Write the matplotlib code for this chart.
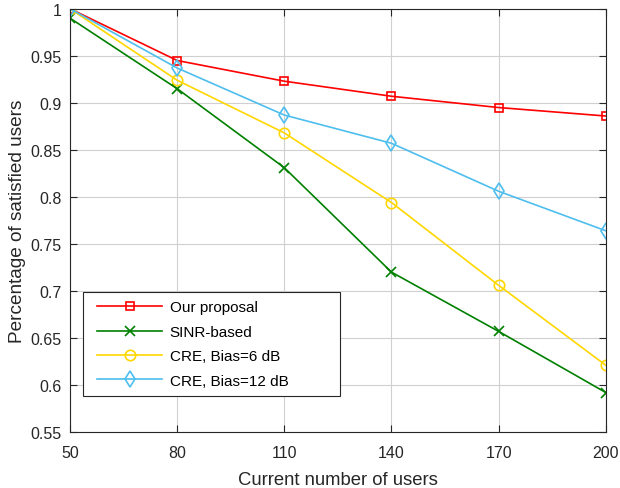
import matplotlib
matplotlib.use("Agg")
import matplotlib.pyplot as plt
from matplotlib.lines import Line2D
from matplotlib.legend_handler import HandlerLine2D

users = [50, 80, 110, 140, 170, 200]
our_proposal = [1.0, 0.945, 0.923, 0.907, 0.895, 0.886]
sinr_based = [0.99, 0.915, 0.831, 0.720, 0.657, 0.592]
cre_6db = [1.0, 0.924, 0.868, 0.794, 0.706, 0.621]
cre_12db = [1.0, 0.937, 0.887, 0.857, 0.806, 0.764]
yticks = [0.55, 0.6, 0.65, 0.7, 0.75, 0.8, 0.85, 0.9, 0.95, 1.0]
ytick_labels = ["0.55", "0.6", "0.65", "0.7", "0.75", "0.8", "0.85", "0.9", "0.95", "1"]

plt.rcParams['font.family'] = ['Liberation Sans', 'DejaVu Sans']
fig = plt.figure(figsize=(6.2, 4.89), dpi=100)
ax = fig.add_axes([0.113, 0.1145, 0.864, 0.8655])

ax.plot(users, our_proposal, color='#ff0000', marker='s', mfc='none', ms=6, lw=1.2, mew=1.2, label='Our proposal')
ax.plot(users, sinr_based, color='#008000', marker='x', ms=7, lw=1.2, mew=1.2, label='SINR-based')
ax.plot(users, cre_6db, color='#ffd700', marker='o', mfc='none', ms=7.5, lw=1.2, mew=1.2, label='CRE, Bias=6 dB')
ax.plot(users, cre_12db, color='#4dbeee', marker='d', mfc='none', ms=8, lw=1.2, mew=1.2, label='CRE, Bias=12 dB')

ax.set_xlim(50, 200)
ax.set_ylim(0.55, 1.0)
ax.set_xticks(users)
ax.set_yticks(yticks)
ax.set_yticklabels(ytick_labels)
ax.grid(True, color='#d0d0d0', lw=0.8)
ax.set_axisbelow(True)
ax.tick_params(direction='in', top=True, right=True, labelsize=11.5, length=5, color='#262626', labelcolor='#262626')
ax.tick_params(axis='x', pad=9)
ax.tick_params(axis='y', pad=6)
for s in ax.spines.values():
    s.set_color('#262626')
    s.set_linewidth(0.8)
ax.set_xlabel('Current number of users', fontsize=13.3, color='#262626', labelpad=8)
ax.set_ylabel('Percentage of satisfied users', fontsize=13.7, color='#262626', labelpad=3)

leg = ax.legend(loc='lower left', bbox_to_anchor=(0.0243, 0.085, 0.48, 0.25), mode='expand',
                borderaxespad=0, fontsize=11, fancybox=False, framealpha=1, edgecolor='#262626',
                handlelength=4.62, handletextpad=0.5, borderpad=0.55, labelspacing=0.68,
                handler_map={Line2D: HandlerLine2D(xpad=0.37)})
leg.get_frame().set_linewidth(0.8)

fig.savefig('out.png', dpi=100)
